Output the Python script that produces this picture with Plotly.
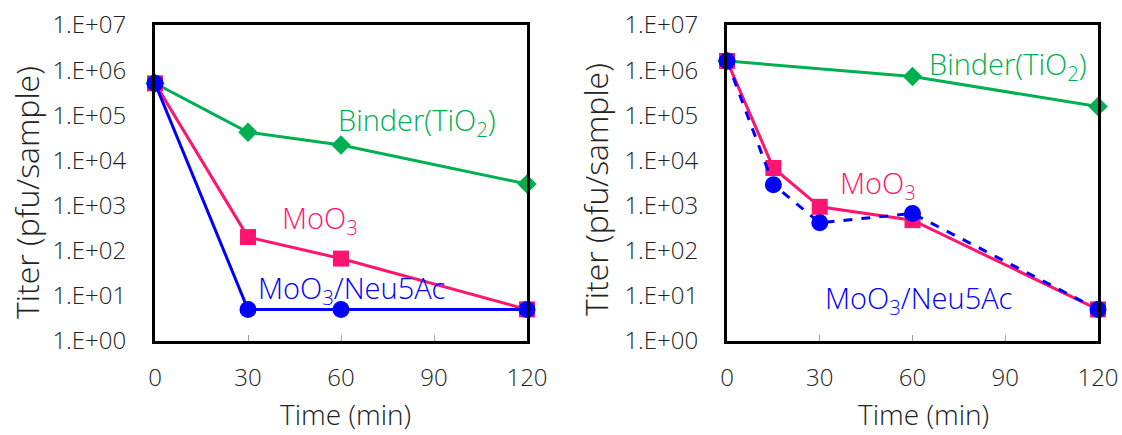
import plotly.graph_objects as go

# ---- data: left panel ----
t_left = [0, 30, 60, 120]
binder_left = [5.1e5, 4.2e4, 2.2e4, 3.0e3]
moo3_left = [5.1e5, 200, 67, 5]
neu_left = [5.1e5, 5, 5, 5]

# ---- data: right panel ----
t_binder_right = [0, 60, 120]
binder_right = [1.6e6, 7.2e5, 1.56e5]
t_right = [0, 15, 30, 60, 120]
moo3_right = [1.6e6, 6.8e3, 940, 475, 5]
neu_right = [1.6e6, 2.9e3, 415, 670, 5]

x_ticks = [0, 30, 60, 90, 120]
y_tickvals = [1, 1e1, 1e2, 1e3, 1e4, 1e5, 1e6, 1e7]
y_ticktext = ["1.E+00", "1.E+01", "1.E+02", "1.E+03", "1.E+04", "1.E+05", "1.E+06", "1.E+07"]

GREEN = "#00B050"
PINK = "#FF1470"
BLUE = "#0000FF"
FONT = "Open Sans"
W, H = 1122, 435

fig = go.Figure()

def add_panel(xa, ya, tb, yb, tm, ym, tn, yn, dashed):
    fig.add_trace(go.Scatter(x=tb, y=yb, xaxis=xa, yaxis=ya, mode="lines+markers",
                             line=dict(color=GREEN, width=3),
                             marker=dict(symbol="diamond", size=15, color=GREEN),
                             cliponaxis=False, showlegend=False))
    fig.add_trace(go.Scatter(x=tm, y=ym, xaxis=xa, yaxis=ya, mode="lines+markers",
                             line=dict(color=PINK, width=3),
                             marker=dict(symbol="square", size=16, color=PINK),
                             cliponaxis=False, showlegend=False))
    fig.add_trace(go.Scatter(x=tn, y=yn, xaxis=xa, yaxis=ya, mode="lines+markers",
                             line=dict(color=BLUE, width=3, dash="dash" if dashed else "solid"),
                             marker=dict(symbol="circle", size=17, color=BLUE),
                             cliponaxis=False, showlegend=False))

add_panel("x", "y", t_left, binder_left, t_left, moo3_left, t_left, neu_left, False)
add_panel("x2", "y2", t_binder_right, binder_right, t_right, moo3_right, t_right, neu_right, True)

y_dom = [1 - 341 / H, 1 - 25 / H]
xdoms = [[155 / W, 527 / W], [727 / W, 1098 / W]]

for i, dom in enumerate(xdoms):
    sfx = "" if i == 0 else str(i + 1)
    fig.update_layout(**{
        "xaxis" + sfx: dict(domain=dom, range=[0, 120], tickvals=x_ticks,
                            ticks="inside", ticklen=6, tickcolor="#A0A0A0", tickwidth=1,
                            showline=True, linecolor="black", linewidth=3, mirror=True,
                            showgrid=False, zeroline=False, ticklabelstandoff=13,
                            automargin=False,
                            tickfont=dict(family=FONT, size=24, color="#222222", weight=300),
                            anchor="y" + sfx),
        "yaxis" + sfx: dict(domain=y_dom, type="log", range=[0, 7],
                            tickvals=y_tickvals, ticktext=y_ticktext, ticks="",
                            showline=True, linecolor="black", linewidth=3, mirror=True,
                            showgrid=False, zeroline=False, ticklabelstandoff=21,
                            automargin=False,
                            tickfont=dict(family=FONT, size=24, color="#222222", weight=300),
                            anchor="x" + sfx),
    })

ann = []
# axis titles
for xc, yc in [(27, 193), (595, 190)]:
    ann.append(dict(text="Titer (pfu/sample)", x=xc / W, y=1 - yc / H, xref="paper", yref="paper",
                    textangle=-90, showarrow=False, xanchor="center", yanchor="middle",
                    font=dict(family=FONT, size=32, color="#222222", weight=300)))
for xc, yc in [(345, 414), (923, 414)]:
    ann.append(dict(text="Time (min)", x=xc / W, y=1 - yc / H, xref="paper", yref="paper",
                    showarrow=False, xanchor="center", yanchor="middle",
                    font=dict(family=FONT, size=28, color="#222222", weight=300)))

# series labels
labels = [
    ("x", "y", 84.5, 4.86, "Binder(TiO<sub>2</sub>)", GREEN),
    ("x", "y", 53.2, 2.70, "MoO<sub>3</sub>", PINK),
    ("x", "y", 63.5, 1.15, "MoO<sub>3</sub>/Neu5Ac", BLUE),
    ("x2", "y2", 90.9, 6.10, "Binder(TiO<sub>2</sub>)", GREEN),
    ("x2", "y2", 48.8, 3.47, "MoO<sub>3</sub>", PINK),
    ("x2", "y2", 61.8, 0.93, "MoO<sub>3</sub>/Neu5Ac", BLUE),
]
for xr, yr, xv, yv, txt, col in labels:
    ann.append(dict(text=txt, x=xv, y=yv, xref=xr, yref=yr, showarrow=False,
                    xanchor="center", yanchor="middle",
                    font=dict(family=FONT, size=29, color=col, weight=300)))

fig.update_layout(width=W, height=H, margin=dict(l=0, r=0, t=0, b=0, autoexpand=False),
                  paper_bgcolor="white", plot_bgcolor="white", annotations=ann)

fig.write_html("out.html")
